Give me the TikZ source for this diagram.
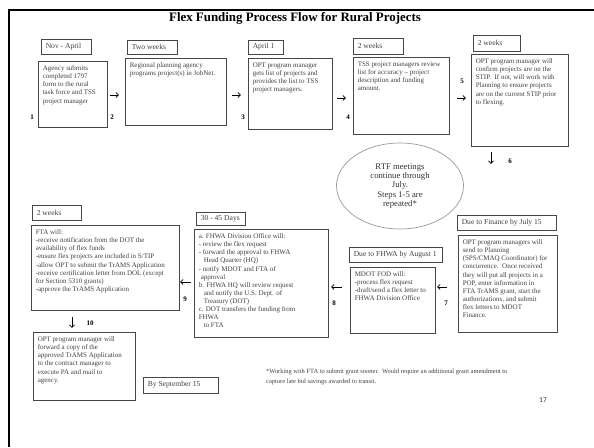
\documentclass[tikz,border=0pt]{standalone}
\usepackage{fontspec}
\setmainfont{Liberation Serif}
\newfontfamily\pagenumfont{Carlito}
\usetikzlibrary{arrows.meta,shapes.geometric}
\begin{document}
\begin{tikzpicture}[x=1pt,y=-1pt,
  fbox/.style={draw=black!72, line width=0.9pt, inner sep=0pt},
  ftext/.style={anchor=north west, inner sep=0pt, align=left, text=black!75,
    font=\fontsize{7.0}{8.1}\selectfont},
  ltext/.style={anchor=west, inner sep=0pt, text=black!75,
    font=\fontsize{7.6}{8.1}\selectfont},
  numlbl/.style={inner sep=0pt, font=\bfseries\fontsize{7}{7}\selectfont},
  arr/.style={line width=0.8pt, -{Straight Barb[length=2.6pt,width=5pt]}}]
\useasboundingbox (0,0) rectangle (594,447);
% frame
\coordinate (fr1) at (9,447);
\coordinate (fr2) at (9,10);
\coordinate (fr3) at (594,10);
\draw[line width=2.2pt] (fr1) -- (fr2) -- (fr3);
% title
\node[inner sep=0pt, font=\bfseries\fontsize{12.9}{14}\selectfont] (title) at (295,18) {Flex Funding Process Flow for Rural Projects};
% step 1
\node[fbox, minimum width=50pt, minimum height=15pt] (l1) at (66,46.5) {};
\node[ltext] (l1t) at ([xshift=5pt]l1.west) {Nov - April};
\node[fbox, minimum width=69pt, minimum height=66pt] (b1) at (72.5,94) {};
\node[ftext] (b1t) at ([xshift=5pt,yshift=-5pt]b1.north west) {Agency submits\\completed 1797\\form to the rural\\task force and TSS\\project manager};
% step 2
\node[fbox, minimum width=50pt, minimum height=14pt] (l2) at (152,47) {};
\node[ltext] (l2t) at ([xshift=5pt]l2.west) {Two weeks};
\node[fbox, minimum width=101pt, minimum height=67pt] (b2) at (175.5,91.5) {};
\node[ftext] (b2t) at ([xshift=5pt,yshift=-5pt]b2.north west) {Regional planning agency\\programs project(s) in JobNet.};
% step 3
\node[fbox, minimum width=35pt, minimum height=14pt] (l3) at (265.5,47) {};
\node[ltext] (l3t) at ([xshift=5pt]l3.west) {April 1};
\node[fbox, minimum width=84pt, minimum height=71pt] (b3) at (290,93.5) {};
\node[ftext] (b3t) at ([xshift=5pt,yshift=-5pt]b3.north west) {OPT program manager\\gets list of projects and\\provides the list to TSS\\project managers.};
% step 4
\node[fbox, minimum width=50pt, minimum height=16pt] (l4) at (378,46) {};
\node[ltext] (l4t) at ([xshift=5pt]l4.west) {2 weeks};
\node[fbox, minimum width=96pt, minimum height=77pt] (b4) at (401,95.5) {};
\node[ftext] (b4t) at ([xshift=5pt,yshift=-5pt]b4.north west) {TSS project managers review\\list for accuracy -- project\\description and funding\\amount.};
% step 5
\node[fbox, minimum width=47pt, minimum height=16pt] (l5) at (496.5,43) {};
\node[ltext] (l5t) at ([xshift=5pt]l5.west) {2 weeks};
\node[fbox, minimum width=97pt, minimum height=92pt] (b5) at (519.5,100) {};
\node[ftext] (b5t) at ([xshift=5pt,yshift=-5pt]b5.north west) {OPT program manager will\\confirm projects are on the\\STIP.\ \ If not, will work with\\Planning to ensure projects\\are on the current STIP prior\\to flexing.};
% ellipse
\node[ellipse, draw=black!40, line width=0.7pt, minimum width=127pt, minimum height=86pt, inner sep=0pt, align=center, text=black!80, font=\fontsize{8.7}{9.3}\selectfont] (rtf) at (400,186) {RTF meetings\\continue through\\July.\\Steps 1-5 are\\repeated*};
% step 7
\node[fbox, minimum width=99pt, minimum height=15pt] (l7) at (506.5,222.5) {};
\node[ltext] (l7t) at ([xshift=5pt]l7.west) {Due to Finance by July 15};
\node[fbox, minimum width=99pt, minimum height=97pt] (b7) at (507.5,283.5) {};
\node[ftext] (b7t) at ([xshift=5pt,yshift=-5pt]b7.north west) {OPT program managers will\\send to Planning\\(SPS/CMAQ Coordinator) for\\concurrence.\ \ Once received\\they will put all projects in a\\POP, enter information in\\FTA TrAMS grant, start the\\authorizations, and submit\\flex letters to MDOT\\Finance.};
% step 8
\node[fbox, minimum width=93pt, minimum height=15pt] (l8) at (395.5,254.5) {};
\node[ltext] (l8t) at ([xshift=5pt]l8.west) {Due to FHWA by August 1};
\node[fbox, minimum width=85pt, minimum height=66pt] (b8) at (392.5,300) {};
\node[ftext] (b8t) at ([xshift=5pt,yshift=-5pt]b8.north west) {MDOT FOD will:\\-process flex request\\-draft/send a flex letter to\\FHWA Division Office};
% step 9
\node[fbox, minimum width=49pt, minimum height=13pt] (l9) at (220.5,218.5) {};
\node[ltext] (l9t) at ([xshift=5pt]l9.west) {30 - 45 Days};
\node[fbox, minimum width=134pt, minimum height=108pt] (b9) at (261,283) {};
\node[ftext] (b9t) at ([xshift=5pt,yshift=-5pt]b9.north west) {a. FHWA Division Office will:\\- review the flex request\\- forward the approval to FHWA\\\hspace*{5pt}Head Quarter (HQ)\\- notify MDOT and FTA of\\\hspace*{2pt}approval\\b. FHWA HQ will review request\\\hspace*{5pt}and notify the U.S. Dept. of\\\hspace*{5pt}Treasury (DOT)\\c. DOT transfers the funding from\\FHWA\\\hspace*{5pt}to FTA};
% step 10 (FTA)
\node[fbox, minimum width=49pt, minimum height=15pt] (l10) at (56.5,212.5) {};
\node[ltext] (l10t) at ([xshift=5pt]l10.west) {2 weeks};
\node[fbox, minimum width=148pt, minimum height=85pt] (b10) at (105,267.5) {};
\node[ftext] (b10t) at ([xshift=5pt,yshift=-5pt]b10.north west) {FTA will:\\-receive notification from the DOT the\\availability of flex funds\\-ensure flex projects are included in S/TIP\\-allow OPT to submit the TrAMS Application\\-receive certification letter from DOL (except\\for Section 5310 grants)\\-approve the TrAMS Application};
% step 11
\node[fbox, minimum width=102pt, minimum height=68pt] (b11) at (84,366) {};
\node[ftext] (b11t) at ([xshift=5pt,yshift=-5pt]b11.north west) {OPT program manager will\\forward a copy of the\\approved TrAMS Application\\to the contract manager to\\execute PA and mail to\\agency.};
\node[fbox, minimum width=75pt, minimum height=16pt] (l11) at (180.5,385) {};
\node[ltext] (l11t) at ([xshift=5pt]l11.west) {By September 15};
% arrows
\coordinate (a1s) at (110,95); \coordinate (a1e) at (119,95);
\coordinate (a2s) at (232,95); \coordinate (a2e) at (241,95);
\coordinate (a3s) at (337,98); \coordinate (a3e) at (346,98);
\coordinate (a4s) at (457,98); \coordinate (a4e) at (466,98);
\coordinate (a6s) at (491,152); \coordinate (a6e) at (491,164);
\coordinate (a7s) at (447,287); \coordinate (a7e) at (437,287);
\coordinate (a8s) at (342,287); \coordinate (a8e) at (331,287);
\coordinate (a9s) at (191,282); \coordinate (a9e) at (180,282);
\coordinate (a10s) at (72,317); \coordinate (a10e) at (72,328);
\foreach \a in {1,2,3,4,6,7,8,9,10} \draw[arr] (a\a s) -- (a\a e);
% step numbers
\node[numlbl] (n1) at (32,117) {1};
\node[numlbl] (n2) at (112,117) {2};
\node[numlbl] (n3) at (243,117) {3};
\node[numlbl] (n4) at (348,117) {4};
\node[numlbl] (n5) at (462,81) {5};
\node[numlbl] (n6) at (510,161) {6};
\node[numlbl] (n7) at (446,303) {7};
\node[numlbl] (n8) at (334,303) {8};
\node[numlbl] (n9) at (185,299) {9};
\node[numlbl] (n10) at (90,323) {10};
% footnote
\node[anchor=north west, inner sep=0pt, align=left, text=black!75, font=\fontsize{6.45}{9.5}\selectfont] (fn) at (266,369) {*Working with FTA to submit grant sooner.\ \ Would require an additional grant amendment to\\capture late bid savings awarded to transit.};
\node[inner sep=0pt, font=\pagenumfont\fontsize{7.5}{8}\selectfont, text=black!80] (pg) at (543,400) {17};
\end{tikzpicture}
\end{document}
